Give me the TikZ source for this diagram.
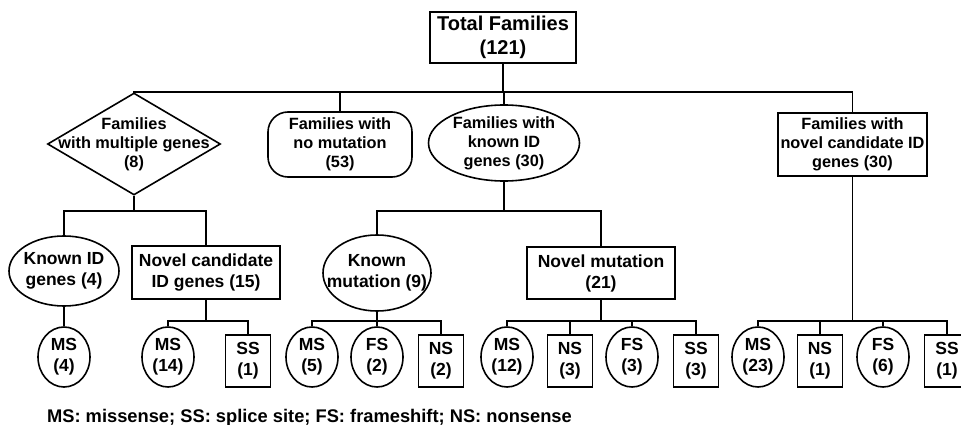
\documentclass[tikz,border=0pt]{standalone}
\usepackage{fontspec}
\setmainfont{Liberation Sans}
\usetikzlibrary{shapes.geometric}

\tikzset{
  fam/.style={font=\bfseries\fontsize{16.3}{19}\selectfont, align=center},
  sub/.style={font=\bfseries\fontsize{17.5}{21}\selectfont, align=center},
  leaf/.style={font=\bfseries\fontsize{17.5}{21}\selectfont, align=center},
  sq/.style={draw, rectangle, inner sep=0pt, fam},
  ov/.style={draw, ellipse, inner sep=0pt, label={[fam]center:#1}},
  ovb/.style={draw, ellipse, inner sep=0pt, label={[sub]center:#1}},
  dia/.style={draw, diamond, inner sep=0pt, label={[fam]center:#1}},
  rnd/.style={draw, ellipse, inner sep=0pt, leaf, minimum width=52pt, minimum height=60pt},
  sqr/.style={draw, rectangle, inner sep=0pt, leaf, minimum width=45pt, minimum height=52pt}
}

\begin{document}
\begin{tikzpicture}[x=1pt, y=-1pt, line width=1.6pt]
  \useasboundingbox (0,0) rectangle (961,425);
  \clip (0,0) rectangle (961,425);

  % top
  \node[sq, font=\bfseries\fontsize{20}{24}\selectfont, minimum width=146pt, minimum height=51pt] (total) at (503,37.5) {Total Families\\(121)};

  % first level
  \node[dia={Families\\with multiple genes\\(8)}, minimum width=173pt, minimum height=102pt] (multi) at (134,144) {};
  \node[sq, rounded corners=20pt, minimum width=144pt, minimum height=65pt] (nomut) at (340,144.5) {Families with\\no mutation\\(53)};
  \node[ov={Families with\\known ID\\genes (30)}, minimum width=151pt, minimum height=76pt] (known) at (504,143) {};
  \node[sq, minimum width=149pt, minimum height=63pt] (novel) at (852.5,144.5) {Families with\\novel candidate ID\\genes (30)};

  % second level
  \node[ovb={Known ID\\genes (4)}, minimum width=110pt, minimum height=70pt] (knownid) at (64,271) {};
  \node[sq, sub, minimum width=148pt, minimum height=53pt] (candid) at (206,272.5) {Novel candidate\\ID genes (15)};
  \node[ovb={Known\\mutation (9)}, minimum width=108pt, minimum height=76pt] (knownmut) at (377,273) {};
  \node[sq, sub, minimum width=148pt, minimum height=52pt] (novelmut) at (601,273) {Novel mutation\\(21)};

  % mutation types
  \node[rnd] (ms4)  at (64,357)  {MS\\(4)};
  \node[rnd] (ms14) at (168,357) {MS\\(14)};
  \node[sqr] (ss1)  at (248,361) {SS\\(1)};
  \node[rnd] (ms5)  at (312,357) {MS\\(5)};
  \node[rnd] (fs2)  at (377,357) {FS\\(2)};
  \node[sqr] (ns2)  at (441,361) {NS\\(2)};
  \node[rnd] (ms12) at (507,357) {MS\\(12)};
  \node[sqr] (ns3)  at (570,361) {NS\\(3)};
  \node[rnd] (fs3)  at (632,357) {FS\\(3)};
  \node[sqr] (ss3)  at (696,361) {SS\\(3)};
  \node[rnd] (ms23) at (758,357) {MS\\(23)};
  \node[sqr] (ns1)  at (820,361) {NS\\(1)};
  \node[rnd] (fs6)  at (883,357) {FS\\(6)};
  \node[sqr] (ss1b) at (947,361) {SS\\(1)};

  \node[anchor=base west, font=\bfseries\fontsize{18.3}{20}\selectfont] (key) at (43,422) {MS: missense; SS: splice site; FS: frameshift; NS: nonsense};

  % connectors
  \coordinate (b0) at (503,92);
  \draw (total) -- (b0);
  \draw (multi.north) |- (b0) -| (novel.north);
  \foreach \n in {nomut,known} \draw (\n.north) -- (\n.north |- b0);

  \coordinate (b1) at (134,211);
  \draw (multi) -- (b1);
  \draw (knownid.north) |- (b1) -| (candid.north);
  \coordinate (b2) at (504,211);
  \draw (known) -- (b2);
  \draw (knownmut.north) |- (b2) -| (novelmut.north);

  \draw (knownid) -- (ms4);
  \coordinate (b3) at (206,321);
  \draw (candid) -- (b3);
  \draw (ms14.north) |- (b3) -| (ss1.north);
  \coordinate (b4) at (377,321);
  \draw (knownmut) -- (fs2);
  \draw (ms5.north) |- (b4) -| (ns2.north);
  \coordinate (b5) at (601,321);
  \draw (novelmut) -- (b5);
  \draw (ms12.north) |- (b5) -| (ss3.north);
  \foreach \n in {ns3,fs3} \draw (\n) -- (\n |- b5);
  \coordinate (b6) at (852.5,321);
  \draw (novel) -- (b6);
  \draw (ms23.north) |- (b6) -| (ss1b.north);
  \foreach \n in {ns1,fs6} \draw (\n) -- (\n |- b6);
\end{tikzpicture}
\end{document}
